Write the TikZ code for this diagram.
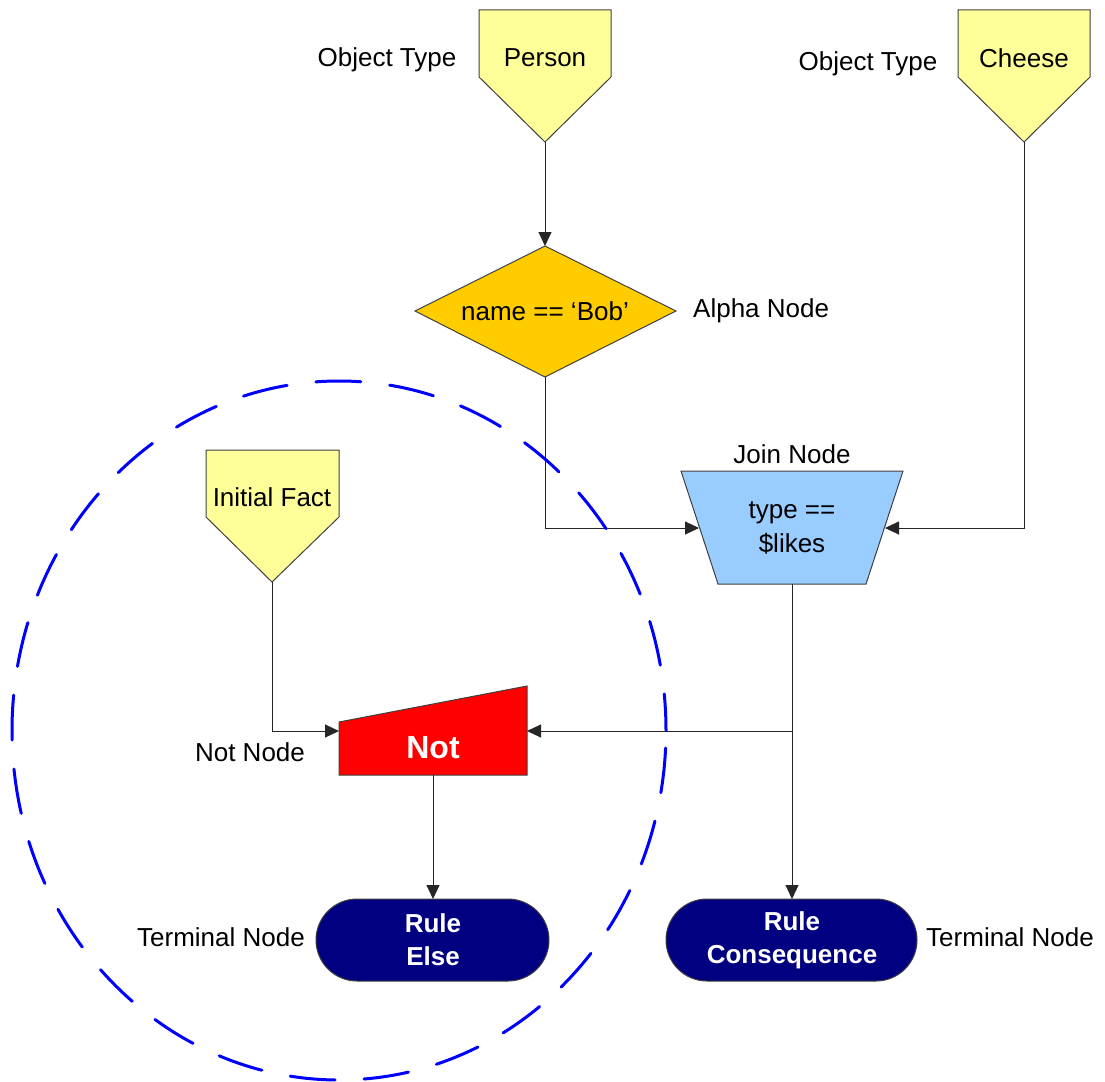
\documentclass[tikz,border=0pt]{standalone}
\usepackage{fontspec}
\setmainfont{Liberation Sans}
\usetikzlibrary{arrows.meta}
\definecolor{facty}{HTML}{FFFF99}
\definecolor{alphay}{HTML}{FFCC00}
\definecolor{joinb}{HTML}{99CCFF}
\definecolor{notr}{HTML}{FF0000}
\definecolor{termn}{HTML}{000080}
\begin{document}
\begin{tikzpicture}[x=1pt,y=-1pt,
  lbl/.style={font=\fontsize{26}{34}\selectfont, inner sep=0pt, align=center},
  blbl/.style={lbl, font=\fontsize{26}{33}\selectfont\bfseries, text=white},
  shp/.style={draw=black!75, line width=1pt},
  conn/.style={line width=1pt, draw=black!85, -{Triangle[length=14pt,width=13pt]}},
  wire/.style={line width=1pt, draw=black!85}]
\useasboundingbox (0,0) rectangle (1105,1081);

% --- shapes ---
\path[shp, fill=facty] (479,10) -- (611,10) -- (611,77) -- (545,142) -- (479,77) -- cycle;
\path[shp, fill=facty] (958,10) -- (1090,10) -- (1090,77) -- (1024,142) -- (958,77) -- cycle;
\path[shp, fill=facty] (206,450) -- (339,450) -- (339,517) -- (272,582) -- (206,517) -- cycle;
\path[shp, fill=alphay] (415,311) -- (545,246) -- (676,311) -- (545,377) -- cycle;
\path[shp, fill=joinb] (681,471) -- (903,471) -- (866,584) -- (718,584) -- cycle;
\path[shp, fill=notr] (339,722) -- (527,686) -- (527,775) -- (339,775) -- cycle;
\path[shp, fill=termn, rounded corners=41pt] (316,899) rectangle (549,981);
\path[shp, fill=termn, rounded corners=41pt] (666,899) rectangle (917,981);

% --- named anchor points ---
\coordinate (personTip) at (545,142);
\coordinate (cheeseTip) at (1024,142);
\coordinate (factTip) at (272,582);
\coordinate (alphaTop) at (545,246);
\coordinate (alphaBot) at (545,377);
\coordinate (joinL) at (699,528);
\coordinate (joinR) at (885,528);
\coordinate (joinBot) at (792,584);
\coordinate (notL) at (339,731);
\coordinate (notR) at (527,731);
\coordinate (notBot) at (433,775);
\coordinate (elseTop) at (433,899);
\coordinate (consTop) at (792,899);
\coordinate (branch) at (792,731);

% --- texts ---
\node[lbl] (person) at (545,58) {Person};
\node[lbl] (cheese) at (1024,58) {Cheese};
\node[lbl] (fact) at (272,497) {Initial Fact};
\node[lbl] (alpha) at (545,311) {name == ‘Bob’};
\node[lbl] (join) at (792,528) {type ==\\\$likes};
\node[blbl, font=\fontsize{32}{38}\selectfont\bfseries] (not) at (433,748) {Not};
\node[blbl] (else) at (433,940) {Rule\\Else};
\node[blbl] (cons) at (792,940) {Rule\\Consequence};
\node[lbl] (ot1) at (387,60) {Object Type};
\node[lbl] (ot2) at (868,64) {Object Type};
\node[lbl, anchor=west] (alphalbl) at (693,311) {Alpha Node};
\node[lbl] (joinlbl) at (792,454) {Join Node};
\node[lbl] (notlbl) at (250,752) {Not Node};
\node[lbl, anchor=east] (term1) at (305,937) {Terminal Node};
\node[lbl, anchor=west] (term2) at (926,937) {Terminal Node};

% --- connectors ---
\draw[conn] (personTip) -- (alphaTop);
\draw[conn] (alphaBot) |- (joinL);
\draw[conn] (cheeseTip) |- (joinR);
\draw[conn] (joinBot) -- (consTop);
\draw[conn] (branch) -- (notR);
\draw[conn] (factTip) |- (notL);
\draw[conn] (notBot) -- (elseTop);

% --- dashed boundary ---
\draw[blue, line width=3pt, line cap=round, dash pattern=on 45pt off 29pt, dash phase=56.5pt]
  (339,730.5) ellipse [x radius=327, y radius=349.5];
\end{tikzpicture}
\end{document}
